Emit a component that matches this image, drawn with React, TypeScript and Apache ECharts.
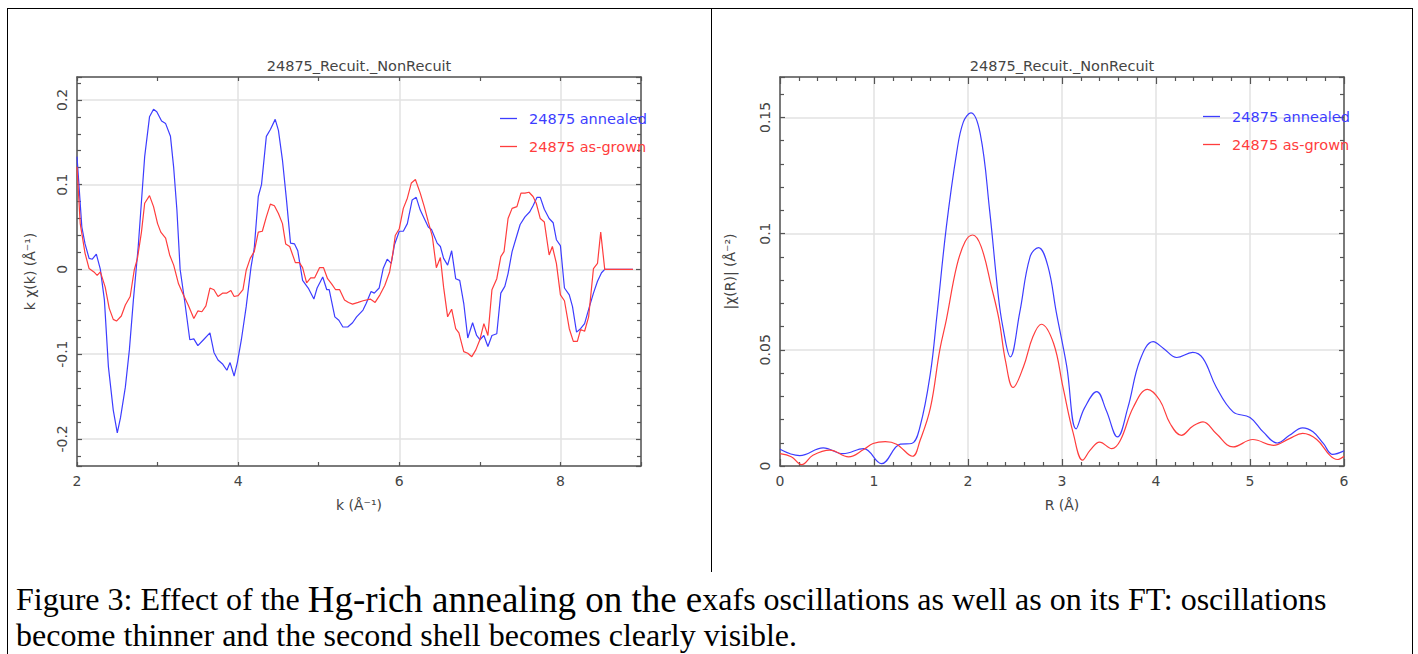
import React, { useEffect, useRef } from "react";
import * as echarts from "echarts";

// ---------- DATA ----------
const chartTitle = "24875_Recuit._NonRecuit";
const seriesNames = ["24875 annealed", "24875 as-grown"];

// k-space EXAFS: [k (Å^-1), k·chi(k)]
const kChiAnnealed: [number, number][] = [
  [2.0, 0.133], [2.06, 0.05], [2.1, 0.03], [2.15, 0.013], [2.19, 0.012], [2.24, 0.018],
  [2.29, 0.0], [2.34, -0.036], [2.39, -0.115], [2.45, -0.166], [2.5, -0.193], [2.54, -0.175],
  [2.6, -0.139], [2.65, -0.095], [2.7, -0.036], [2.76, 0.027], [2.8, 0.08], [2.84, 0.133],
  [2.9, 0.18], [2.95, 0.189], [2.99, 0.186], [3.05, 0.175], [3.1, 0.172], [3.16, 0.157],
  [3.2, 0.12], [3.24, 0.07], [3.28, 0.0], [3.34, -0.04], [3.4, -0.083], [3.45, -0.082],
  [3.5, -0.09], [3.57, -0.083], [3.65, -0.075], [3.7, -0.098], [3.75, -0.107], [3.81, -0.112],
  [3.86, -0.119], [3.9, -0.11], [3.95, -0.126], [3.99, -0.11], [4.04, -0.083], [4.1, -0.044],
  [4.16, 0.003], [4.2, 0.025], [4.25, 0.086], [4.29, 0.1], [4.35, 0.157], [4.4, 0.165],
  [4.46, 0.177], [4.5, 0.164], [4.55, 0.129], [4.6, 0.082], [4.65, 0.031], [4.7, 0.03],
  [4.74, 0.022], [4.8, -0.013], [4.87, -0.022], [4.94, -0.035], [4.98, -0.022], [5.05, -0.009],
  [5.1, -0.024], [5.13, -0.024], [5.2, -0.056], [5.25, -0.06], [5.3, -0.068], [5.36, -0.068],
  [5.42, -0.063], [5.47, -0.056], [5.55, -0.048], [5.59, -0.04], [5.65, -0.026], [5.69, -0.028],
  [5.75, -0.022], [5.8, 0.001], [5.85, 0.012], [5.9, 0.007], [5.94, 0.029], [6.0, 0.045],
  [6.05, 0.045], [6.1, 0.054], [6.16, 0.082], [6.21, 0.085], [6.26, 0.07], [6.32, 0.058],
  [6.36, 0.05], [6.4, 0.047], [6.47, 0.031], [6.51, 0.027], [6.55, 0.013], [6.6, 0.005],
  [6.65, 0.022], [6.7, -0.011], [6.75, -0.013], [6.8, -0.04], [6.85, -0.081], [6.91, -0.063],
  [6.96, -0.078], [7.0, -0.083], [7.05, -0.078], [7.1, -0.091], [7.15, -0.078], [7.21, -0.076],
  [7.26, -0.028], [7.31, -0.02], [7.35, -0.005], [7.4, 0.021], [7.45, 0.037], [7.5, 0.053],
  [7.56, 0.062], [7.62, 0.068], [7.66, 0.075], [7.71, 0.085], [7.75, 0.085], [7.8, 0.071],
  [7.86, 0.06], [7.91, 0.055], [7.95, 0.035], [8.0, 0.028], [8.05, -0.022], [8.11, -0.03],
  [8.15, -0.044], [8.2, -0.074], [8.25, -0.07], [8.3, -0.064], [8.36, -0.044], [8.41, -0.028],
  [8.46, -0.014], [8.51, -0.004], [8.55, 0.0], [8.9, 0.0],
];

const kChiAsGrown: [number, number][] = [
  [2.0, 0.121], [2.04, 0.054], [2.1, 0.019], [2.15, 0.001], [2.21, -0.003], [2.25, -0.007],
  [2.29, -0.003], [2.35, -0.021], [2.4, -0.046], [2.45, -0.059], [2.49, -0.061], [2.55, -0.055],
  [2.6, -0.042], [2.66, -0.032], [2.71, -0.001], [2.75, 0.013], [2.8, 0.044], [2.84, 0.078],
  [2.9, 0.087], [2.95, 0.074], [3.0, 0.054], [3.04, 0.044], [3.1, 0.037], [3.15, 0.017],
  [3.2, 0.005], [3.26, -0.017], [3.32, -0.03], [3.38, -0.042], [3.45, -0.058], [3.5, -0.049],
  [3.55, -0.05], [3.6, -0.043], [3.65, -0.022], [3.7, -0.024], [3.75, -0.032], [3.81, -0.028],
  [3.86, -0.028], [3.91, -0.025], [3.95, -0.032], [4.0, -0.031], [4.06, -0.024], [4.1, -0.001],
  [4.15, 0.013], [4.2, 0.021], [4.25, 0.044], [4.3, 0.045], [4.35, 0.062], [4.4, 0.077],
  [4.45, 0.075], [4.5, 0.066], [4.55, 0.054], [4.59, 0.03], [4.64, 0.027], [4.71, 0.008],
  [4.76, 0.008], [4.8, 0.002], [4.85, -0.016], [4.9, -0.01], [4.95, -0.01], [5.01, 0.002],
  [5.06, 0.002], [5.11, -0.011], [5.16, -0.017], [5.21, -0.024], [5.26, -0.024], [5.32, -0.036],
  [5.37, -0.039], [5.42, -0.041], [5.49, -0.039], [5.55, -0.037], [5.64, -0.035], [5.7, -0.039],
  [5.76, -0.03], [5.82, -0.019], [5.88, -0.003], [5.92, 0.019], [5.95, 0.04], [6.0, 0.048],
  [6.05, 0.072], [6.1, 0.084], [6.15, 0.102], [6.2, 0.106], [6.26, 0.09], [6.31, 0.074],
  [6.36, 0.056], [6.41, 0.039], [6.46, 0.002], [6.51, 0.014], [6.55, -0.021], [6.6, -0.056],
  [6.65, -0.047], [6.7, -0.07], [6.74, -0.075], [6.8, -0.097], [6.85, -0.099], [6.9, -0.103],
  [6.95, -0.095], [7.0, -0.083], [7.05, -0.064], [7.1, -0.078], [7.15, -0.024], [7.21, -0.011],
  [7.26, 0.015], [7.3, 0.021], [7.35, 0.06], [7.4, 0.072], [7.46, 0.074], [7.51, 0.09],
  [7.56, 0.09], [7.61, 0.091], [7.66, 0.086], [7.7, 0.078], [7.75, 0.06], [7.8, 0.056],
  [7.86, 0.017], [7.9, 0.027], [7.95, 0.007], [8.0, -0.03], [8.05, -0.037], [8.11, -0.07],
  [8.16, -0.085], [8.21, -0.085], [8.25, -0.071], [8.3, -0.073], [8.35, -0.056], [8.41, 0.001],
  [8.46, 0.007], [8.5, 0.044], [8.55, 0.0], [8.9, 0.0],
];

// R-space FT magnitude: [R (Å), |chi(R)|]
const ftAnnealed: [number, number][] = [
  [0.0, 0.0072], [0.21, 0.0045], [0.46, 0.0078], [0.67, 0.0053], [0.89, 0.0075], [1.08, 0.001],
  [1.28, 0.0094], [1.4, 0.0097], [1.49, 0.017], [1.6, 0.04], [1.67, 0.065], [1.77, 0.103],
  [1.88, 0.135], [1.95, 0.148], [2.03, 0.152], [2.13, 0.143], [2.23, 0.11], [2.32, 0.074],
  [2.37, 0.06], [2.45, 0.047], [2.55, 0.066], [2.66, 0.09], [2.75, 0.094], [2.85, 0.086],
  [2.94, 0.066], [3.05, 0.043], [3.15, 0.016], [3.24, 0.025], [3.37, 0.032], [3.47, 0.024],
  [3.59, 0.0125], [3.7, 0.025], [3.83, 0.0456], [3.97, 0.0535], [4.08, 0.0506], [4.22, 0.0467],
  [4.39, 0.0489], [4.5, 0.0463], [4.64, 0.034], [4.82, 0.0233], [5.0, 0.0209], [5.14, 0.0147],
  [5.29, 0.0099], [5.42, 0.0132], [5.56, 0.0164], [5.67, 0.0147], [5.78, 0.0097], [5.88, 0.005],
  [6.0, 0.0065],
];

const ftAsGrown: [number, number][] = [
  [0.0, 0.0053], [0.12, 0.004], [0.23, 0.0006], [0.35, 0.0046], [0.53, 0.0068], [0.73, 0.0039],
  [0.89, 0.0071], [0.99, 0.0097], [1.12, 0.0105], [1.24, 0.0094], [1.41, 0.0042], [1.49, 0.011],
  [1.6, 0.025], [1.7, 0.05], [1.77, 0.063], [1.88, 0.086], [1.97, 0.0966], [2.05, 0.0994],
  [2.14, 0.0944], [2.25, 0.077], [2.33, 0.063], [2.4, 0.045], [2.48, 0.0338], [2.59, 0.0427],
  [2.69, 0.0556], [2.78, 0.061], [2.91, 0.0528], [3.01, 0.034], [3.12, 0.014], [3.22, 0.0025],
  [3.3, 0.0068], [3.4, 0.0103], [3.53, 0.0075], [3.62, 0.011], [3.76, 0.0254], [3.91, 0.033],
  [4.04, 0.0283], [4.15, 0.0183], [4.27, 0.0132], [4.39, 0.0171], [4.5, 0.019], [4.64, 0.014],
  [4.82, 0.0082], [5.03, 0.0114], [5.25, 0.0089], [5.42, 0.0118], [5.56, 0.014], [5.71, 0.0114],
  [5.85, 0.0046], [5.93, 0.0028], [6.0, 0.0042],
];

const captionLine1a = "Figure 3: Effect of the ";
const captionLine1b = "Hg-rich annealing on the e";
const captionLine1c = "xafs oscillations as well as on its FT: oscillations";
const captionLine2 = "become thinner and the second shell becomes clearly visible.";

// ---------- STYLE ----------
const BLUE = "#3d3dff";
const RED = "#ff3d3d";
const AXIS = "#555";
const GRIDC = "#e2e2e2";
const LABEL = "#444";
const FONT = "DejaVu Sans";

function xAx(grid: number, pos: "bottom" | "top", opts: any, labels: boolean, name?: string) {
  return {
    type: "value",
    gridIndex: grid,
    position: pos,
    min: opts.min,
    max: opts.max,
    interval: opts.interval,
    name: labels ? name : undefined,
    nameLocation: "middle",
    nameGap: 32,
    nameTextStyle: { fontFamily: FONT, fontSize: 14, color: LABEL },
    axisLine: { show: true, onZero: false, lineStyle: { color: AXIS, width: 1.5 } },
    axisTick: { show: true, inside: true, length: opts.tickLen, lineStyle: { color: AXIS, width: 1.2 } },
    minorTick: { show: true, splitNumber: opts.minor, length: opts.minorLen, lineStyle: { color: AXIS, width: 1.2 } },
    axisLabel: {
      show: labels,
      margin: 8,
      fontFamily: FONT,
      fontSize: 14,
      color: LABEL,
      showMaxLabel: opts.showMax,
      showMinLabel: true,
    },
    splitLine: { show: labels, lineStyle: { color: GRIDC, width: 1.5 } },
  };
}

function yAx(grid: number, pos: "left" | "right", opts: any, labels: boolean, name?: string, nameGap?: number) {
  const a: any = {
    type: "value",
    gridIndex: grid,
    position: pos,
    min: opts.min,
    max: opts.max,
    name: labels ? name : undefined,
    nameLocation: "middle",
    nameGap: nameGap,
    nameRotate: 90,
    nameTextStyle: { fontFamily: FONT, fontSize: 14, color: LABEL },
    axisLine: { show: true, onZero: false, lineStyle: { color: AXIS, width: 1.5 } },
    axisTick: { show: true, inside: true, length: 5, lineStyle: { color: AXIS, width: 1.2 } },
    minorTick: { show: true, splitNumber: opts.minor, length: 4, lineStyle: { color: AXIS, width: 1.2 } },
    axisLabel: {
      show: labels,
      rotate: 90,
      margin: 8,
      fontFamily: FONT,
      fontSize: 14,
      color: LABEL,
      showMinLabel: opts.showMin,
      showMaxLabel: false,
    },
    splitLine: { show: labels, lineStyle: { color: GRIDC, width: 1.5 } },
  };
  if (opts.interval != null) a.interval = opts.interval;
  else a.splitNumber = opts.splitNumber;
  return a;
}

export default function App() {
  const ref = useRef<HTMLDivElement>(null);

  useEffect(() => {
    if (!ref.current) return;
    const chart = echarts.init(ref.current, undefined, { renderer: "svg" });

    const kX = { min: 2, max: 9, interval: 2, minor: 2, tickLen: 4, minorLen: 4, showMax: false };
    const rX = { min: 0, max: 6, interval: 1, minor: 5, tickLen: 7, minorLen: 4, showMax: true };
    const kY = { min: -0.232, max: 0.227, splitNumber: 5, minor: 5, showMin: false };
    const rY = { min: 0, max: 0.1674, interval: 0.05, minor: 5, showMin: true };

    const lineSeries = (name: string, color: string, data: [number, number][], gi: number, smooth: any) => ({
      type: "line",
      name,
      xAxisIndex: gi === 0 ? 0 : 2,
      yAxisIndex: gi === 0 ? 0 : 2,
      data,
      symbol: "none",
      smooth,
      lineStyle: { color, width: 1.2 },
      itemStyle: { color },
      emphasis: { disabled: true },
    });

    const legendFor = (left: number, top: number) => ({
      orient: "vertical",
      left,
      top,
      icon: "rect",
      itemWidth: 17,
      itemHeight: 1.3,
      itemGap: 13,
      selectedMode: false,
      data: [
        { name: seriesNames[0], textStyle: { color: BLUE }, itemStyle: { color: BLUE } },
        { name: seriesNames[1], textStyle: { color: RED }, itemStyle: { color: RED } },
      ],
      textStyle: { fontFamily: FONT, fontSize: 14.5, padding: [0, 0, 0, 7] },
    });

    chart.setOption({
      animation: false,
      backgroundColor: "#fff",
      textStyle: { fontFamily: FONT },
      grid: [
        { left: 77, top: 77, width: 564, height: 389 },
        { left: 780, top: 77, width: 564, height: 389 },
      ],
      xAxis: [
        xAx(0, "bottom", kX, true, "k (Å⁻¹)"),
        xAx(0, "top", kX, false),
        xAx(1, "bottom", rX, true, "R (Å)"),
        xAx(1, "top", rX, false),
      ],
      yAxis: [
        yAx(0, "left", kY, true, "k χ(k) (Å⁻¹)", 40),
        yAx(0, "right", kY, false),
        yAx(1, "left", rY, true, "|χ(R)| (Å⁻²)", 43),
        yAx(1, "right", rY, false),
      ],
      legend: [legendFor(495, 106), legendFor(1198, 104)],
      series: [
        lineSeries(seriesNames[0], BLUE, kChiAnnealed, 0, false),
        lineSeries(seriesNames[1], RED, kChiAsGrown, 0, false),
        lineSeries(seriesNames[0], BLUE, ftAnnealed, 1, 0.4),
        lineSeries(seriesNames[1], RED, ftAsGrown, 1, 0.4),
      ],
      graphic: [
        { type: "line", shape: { x1: 7, y1: 8.5, x2: 1412, y2: 8.5 }, style: { stroke: "#000", lineWidth: 1 } },
        { type: "line", shape: { x1: 7.5, y1: 8, x2: 7.5, y2: 654 }, style: { stroke: "#000", lineWidth: 1 } },
        { type: "line", shape: { x1: 1412.5, y1: 8, x2: 1412.5, y2: 654 }, style: { stroke: "#000", lineWidth: 1 } },
        { type: "line", shape: { x1: 711.5, y1: 8, x2: 711.5, y2: 572 }, style: { stroke: "#000", lineWidth: 1 } },
        {
          type: "text",
          x: 359,
          y: 58,
          style: { text: chartTitle, fontFamily: FONT, fontSize: 14.5, fill: LABEL, align: "center", textAlign: "center" },
        },
        {
          type: "text",
          x: 1062,
          y: 58,
          style: { text: chartTitle, fontFamily: FONT, fontSize: 14.5, fill: LABEL, align: "center", textAlign: "center" },
        },
        {
          type: "text",
          x: 16,
          y: 581,
          style: {
            text:
              "{a|" + captionLine1a + "}{b|" + captionLine1b + "}{a|" + captionLine1c + "}\n{a|" + captionLine2 + "}",
            fill: "#000",
            fontFamily: "Liberation Serif",
            fontSize: 32,
            rich: {
              a: { fontFamily: "Liberation Serif", fontSize: 32, lineHeight: 36, fill: "#000" },
              b: { fontFamily: "Liberation Serif", fontSize: 37, lineHeight: 36, fill: "#000" },
            },
          },
        },
      ],
    });

    return () => chart.dispose();
  }, []);

  return (
    <div
      ref={ref}
      style={{ position: "absolute", left: 0, top: 0, width: 1418, height: 654, background: "#fff" }}
    />
  );
}
